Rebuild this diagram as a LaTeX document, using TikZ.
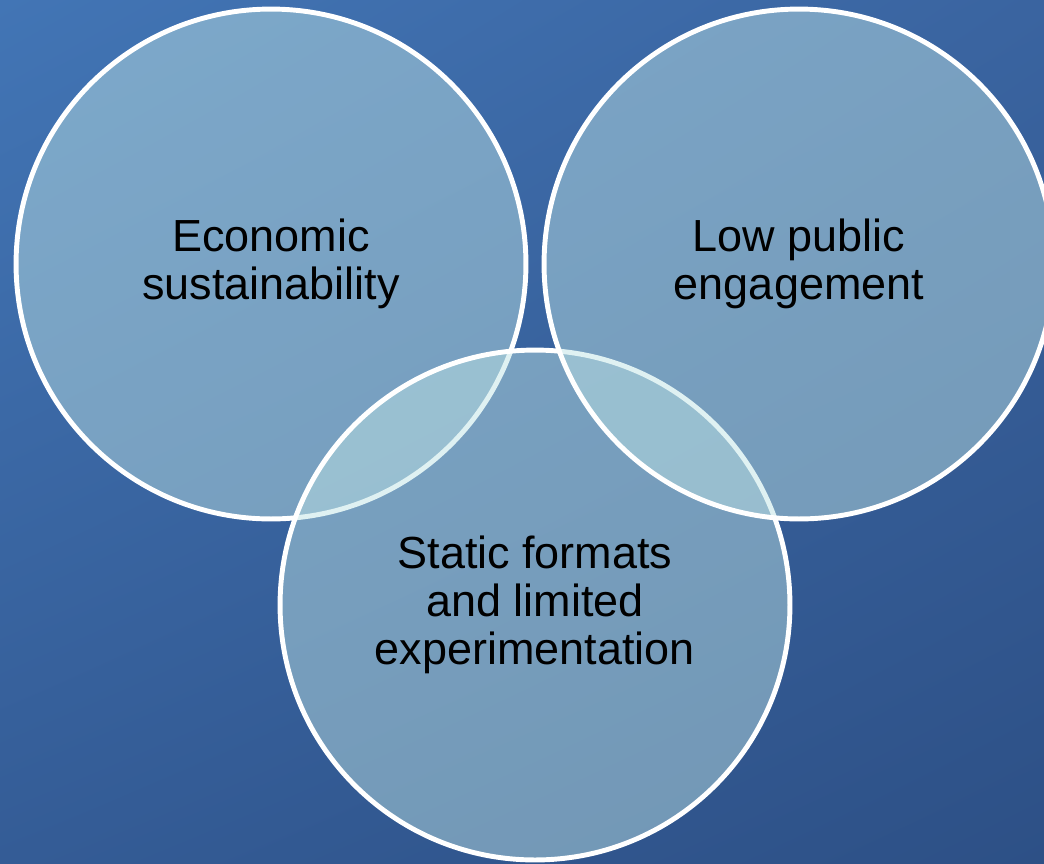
\documentclass[tikz,border=0pt]{standalone}
\usepackage{fontspec}
\setmainfont{Liberation Sans}
\usepackage{xcolor}
\usepackage{tikz}
\usetikzlibrary{positioning, shadings}

\definecolor{bgUL}{RGB}{66,117,181}
\definecolor{bgUR}{RGB}{58,100,160}
\definecolor{bgLL}{RGB}{52,92,150}
\definecolor{bgLR}{RGB}{45,80,134}
\definecolor{bubblefill}{RGB}{190,227,229}

\begin{document}
\begin{tikzpicture}[x=0.02cm,y=-0.02cm,
    bubble/.style={circle, draw=white, line width=2.8pt, fill=bubblefill,
      fill opacity=0.48, text opacity=1, inner sep=0pt, minimum size=10.2cm,
      align=center, font=\fontsize{25.6}{27.2}\selectfont}]
    \useasboundingbox (0,0) rectangle (1044,863);
    \clip (0,0) rectangle (1044,863);

    % background
    \shade[upper left=bgUL, upper right=bgUR, lower left=bgLL, lower right=bgLR]
      (0,0) rectangle (1044,863);

    % circles
    \node[bubble] (econ) at (271,264) {Economic\\sustainability};
    \node[bubble] (static) at (535,605) {Static formats\\and limited\\experimentation};
    \node[bubble] (public) at (799,264) {Low public\\engagement};
\end{tikzpicture}
\end{document}
